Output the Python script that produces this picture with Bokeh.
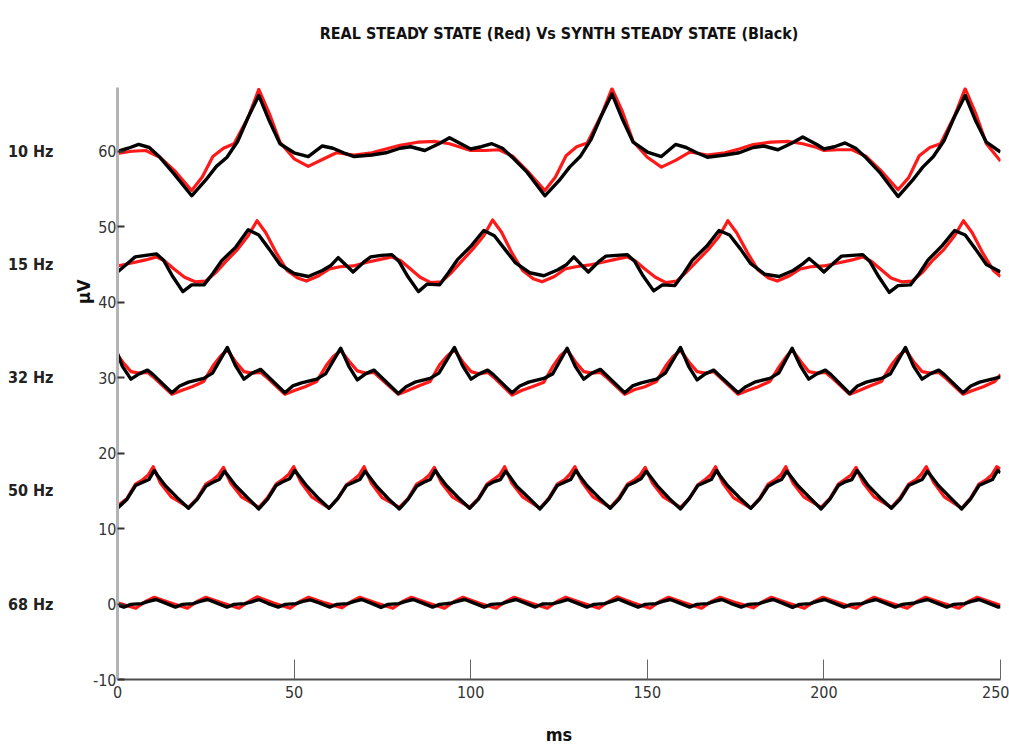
from bokeh.plotting import figure
from bokeh.models import Range1d, FixedTicker, LinearAxis, Title
from bokeh.embed import file_html
from bokeh.resources import INLINE

# ---------------- data (ms, µV) ----------------
title_text = "REAL STEADY STATE (Red) Vs SYNTH STEADY STATE (Black)"
row_labels = ["10 Hz", "15 Hz", "32 Hz", "50 Hz", "68 Hz"]
row_levels = [60, 45, 30, 15, 0]
x_ticks = [0, 50, 100, 150, 200, 250]
y_ticks = [-10, 0, 10, 20, 30, 40, 50, 60]

# 10 Hz
t10_black = [0, 3, 6, 9, 12, 16, 21, 25, 28, 31, 34, 37, 40, 43, 46, 50, 54, 58, 61, 64, 67, 72, 76, 80, 83, 87, 91, 94, 98,
             100, 103, 106, 109, 112, 116, 121, 125, 128, 131, 134, 137, 140, 143, 146, 150, 154, 158, 161, 164, 167, 172, 176, 180, 183, 187, 191, 194, 198,
             200, 203, 206, 209, 212, 216, 221, 225, 228, 231, 234, 237, 240, 243, 246, 250]
v10_black = [60.0, 60.4, 60.9, 60.5, 59.2, 57.0, 54.1, 56.2, 58.0, 59.2, 61.3, 64.5, 67.4, 64.0, 61.0, 59.8, 59.3, 60.7, 60.4, 59.8, 59.3, 59.5, 59.8, 60.4, 60.6, 60.1, 61.0, 61.8, 60.8,
             60.3, 60.6, 61.0, 60.4, 59.1, 57.2, 54.1, 56.1, 57.9, 59.3, 61.5, 64.7, 67.6, 64.2, 61.2, 59.9, 59.3, 60.9, 60.5, 59.8, 59.2, 59.5, 59.8, 60.5, 60.7, 60.2, 61.1, 61.9, 60.9,
             60.3, 60.6, 61.1, 60.4, 59.1, 57.1, 54.0, 56.1, 57.9, 59.3, 61.4, 64.6, 67.4, 64.0, 61.2, 59.9]
t10_red = [0, 4, 8, 12, 16, 21, 24, 27, 30, 33, 37, 40, 43, 46, 50, 54, 58, 62, 67, 72, 76, 80, 85, 90, 94, 98,
           100, 104, 108, 112, 116, 121, 124, 127, 130, 133, 137, 140, 143, 146, 150, 154, 158, 162, 167, 172, 176, 180, 185, 190, 194, 198,
           200, 204, 208, 212, 216, 221, 224, 227, 230, 233, 237, 240, 243, 246, 250]
v10_red = [59.7, 60.0, 60.1, 59.2, 57.5, 54.8, 56.6, 59.3, 60.4, 61.0, 64.5, 68.2, 65.0, 61.2, 59.0, 58.0, 58.9, 59.8, 59.5, 59.8, 60.3, 60.8, 61.2, 61.3, 61.0, 60.4,
           60.1, 60.1, 60.2, 59.3, 57.4, 54.8, 56.6, 59.4, 60.6, 61.1, 64.8, 68.3, 65.2, 61.3, 59.2, 57.9, 58.8, 59.9, 59.5, 59.8, 60.3, 60.9, 61.2, 61.3, 61.0, 60.5,
           60.1, 60.2, 60.2, 59.3, 57.5, 54.9, 56.5, 59.4, 60.5, 61.0, 64.7, 68.3, 65.0, 61.0, 58.7]

# 15 Hz
t15_black = [0, 3, 5, 8, 11, 13, 15.5, 18.5, 21, 24.5, 27, 29.5, 33.5, 37, 40, 43, 46, 50, 54, 58, 60.5, 62.5, 64.5,
             66.7, 69.7, 71.7, 74.7, 77.7, 79.7, 82.2, 85.2, 87.7, 91.2, 93.7, 96.2, 100.2, 103.7, 106.7, 109.7, 112.7, 116.7, 120.7, 124.7, 127.2, 129.2, 131.2,
             133.3, 136.3, 138.3, 141.3, 144.3, 146.3, 148.8, 151.8, 154.3, 157.8, 160.3, 162.8, 166.8, 170.3, 173.3, 176.3, 179.3, 183.3, 187.3, 191.3, 193.8, 195.8, 197.8,
             200, 203, 205, 208, 211, 213, 215.5, 218.5, 221, 224.5, 227, 229.5, 233.5, 237, 240, 243, 246, 250]
v15_black = [44.0, 45.2, 46.0, 46.2, 46.4, 45.6, 43.5, 41.4, 42.3, 42.3, 43.8, 45.5, 47.3, 49.6, 48.9, 47.0, 45.0, 43.8, 43.4, 44.2, 44.9, 45.9, 45.0,
             44.0, 45.3, 46.0, 46.2, 46.3, 45.4, 43.4, 41.4, 42.4, 42.3, 43.9, 45.6, 47.5, 49.5, 48.8, 47.0, 45.2, 43.9, 43.5, 44.3, 45.0, 46.0, 45.0,
             44.0, 45.4, 46.1, 46.2, 46.3, 45.5, 43.5, 41.5, 42.3, 42.2, 43.8, 45.6, 47.4, 49.5, 48.9, 47.1, 45.1, 43.7, 43.4, 44.2, 45.0, 45.8, 45.0,
             44.0, 45.3, 46.1, 46.2, 46.3, 45.4, 43.4, 41.3, 42.2, 42.3, 43.8, 45.6, 47.5, 49.5, 48.9, 47.0, 45.0, 44.0]
t15_red = [0, 4, 8, 11, 13.5, 16, 19, 22, 25, 28, 30.5, 34, 37, 39.5, 42, 45, 48, 51, 53.5, 57, 60, 63,
           66.7, 70.7, 74.7, 77.7, 80.2, 82.7, 85.7, 88.7, 91.7, 94.7, 97.2, 100.7, 103.7, 106.2, 108.7, 111.7, 114.7, 117.7, 120.2, 123.7, 126.7, 129.7,
           133.3, 137.3, 141.3, 144.3, 146.8, 149.3, 152.3, 155.3, 158.3, 161.3, 163.8, 167.3, 170.3, 172.8, 175.3, 178.3, 181.3, 184.3, 186.8, 190.3, 193.3, 196.3,
           200, 204, 208, 211, 213.5, 216, 219, 222, 225, 228, 230.5, 234, 237, 239.5, 242, 245, 248, 250]
v15_red = [44.8, 45.2, 45.6, 46.0, 45.4, 44.4, 43.3, 42.7, 42.8, 44.0, 45.3, 47.0, 48.8, 50.8, 49.2, 46.5, 44.2, 43.2, 42.8, 43.5, 44.4, 44.7,
           44.8, 45.3, 45.7, 46.0, 45.5, 44.5, 43.3, 42.6, 42.7, 44.0, 45.3, 47.1, 48.8, 50.9, 49.3, 46.5, 44.2, 43.1, 42.7, 43.4, 44.4, 44.7,
           44.9, 45.3, 45.7, 46.0, 45.4, 44.4, 43.3, 42.6, 42.8, 44.1, 45.3, 47.0, 48.7, 50.8, 49.2, 46.6, 44.3, 43.2, 42.8, 43.5, 44.4, 44.7,
           44.8, 45.2, 45.6, 46.0, 45.4, 44.4, 43.2, 42.7, 42.8, 44.0, 45.4, 47.0, 48.8, 50.8, 49.2, 46.5, 44.2, 43.4]

# 32 Hz
t32_black = [0, 1.4, 3.8, 6.1, 8.5, 10.1, 15.4, 17.6, 20.1, 24.4, 26.9,
             31.1, 33.4, 35.8, 38.1, 40.5, 42.1, 47.4, 49.6, 52.1, 56.4, 58.9,
             63.2, 65.5, 67.9, 70.2, 72.6, 74.2, 79.5, 81.7, 84.2, 88.5, 91.0,
             95.4, 97.7, 100.1, 102.4, 104.8, 106.4, 111.7, 113.9, 116.4, 120.7, 123.2,
             127.3, 129.6, 132.0, 134.3, 136.7, 138.3, 143.6, 145.8, 148.3, 152.6, 155.1,
             159.4, 161.7, 164.1, 166.4, 168.8, 170.4, 175.7, 177.9, 180.4, 184.7, 187.2,
             191.0, 193.3, 195.7, 198.0, 200.4, 202.0, 207.3, 209.5, 212.0, 216.3, 218.8,
             223.1, 225.4, 227.8, 230.1, 232.5, 234.1, 239.4, 241.6, 244.1, 248.4, 250]
v32_black = [33.2, 31.5, 29.8, 30.5, 31.0, 30.4, 28.0, 28.9, 29.4, 29.9, 30.6,
             34.0, 31.6, 29.8, 30.6, 31.1, 30.4, 28.0, 28.9, 29.3, 29.8, 30.5,
             33.9, 31.5, 29.7, 30.5, 31.0, 30.3, 27.9, 28.8, 29.4, 29.9, 30.6,
             34.0, 31.6, 29.8, 30.5, 31.0, 30.4, 28.0, 28.9, 29.4, 29.9, 30.5,
             33.9, 31.5, 29.8, 30.6, 31.1, 30.4, 28.0, 28.9, 29.3, 29.8, 30.6,
             34.0, 31.5, 29.7, 30.5, 31.0, 30.3, 28.0, 28.8, 29.4, 29.9, 30.6,
             33.9, 31.6, 29.8, 30.5, 31.0, 30.4, 27.9, 28.9, 29.4, 29.9, 30.5,
             34.0, 31.5, 29.8, 30.5, 31.0, 30.4, 28.0, 28.9, 29.4, 29.9, 30.1]
t32_red = [0, 1.6, 3.8, 6.1, 8.5, 10.1, 15.4, 18.1, 21.1, 24.4, 27.1, 29.1,
           31.1, 33.6, 35.8, 38.1, 40.5, 42.1, 47.4, 50.1, 53.1, 56.4, 59.1, 61.1,
           63.2, 65.7, 67.9, 70.2, 72.6, 74.2, 79.5, 82.2, 85.2, 88.5, 91.2, 93.2,
           95.4, 97.9, 100.1, 102.4, 104.8, 106.4, 111.7, 114.4, 117.4, 120.7, 123.4, 125.4,
           127.3, 129.8, 132.0, 134.3, 136.7, 138.3, 143.6, 146.3, 149.3, 152.6, 155.3, 157.3,
           159.4, 161.9, 164.1, 166.4, 168.8, 170.4, 175.7, 178.4, 181.4, 184.7, 187.4, 189.4,
           191.0, 193.5, 195.7, 198.0, 200.4, 202.0, 207.3, 210.0, 213.0, 216.3, 219.0, 221.0,
           223.1, 225.6, 227.8, 230.1, 232.5, 234.1, 239.4, 242.1, 245.1, 248.4, 250]
v32_red = [33.0, 32.0, 30.8, 30.6, 30.7, 30.1, 27.8, 28.3, 28.8, 29.5, 31.6, 32.8,
           33.7, 32.0, 30.8, 30.6, 30.7, 30.1, 27.8, 28.3, 28.8, 29.5, 31.6, 32.8,
           33.6, 32.1, 30.9, 30.6, 30.7, 30.0, 27.8, 28.3, 28.9, 29.5, 31.7, 32.8,
           33.7, 32.0, 30.8, 30.5, 30.7, 30.1, 27.7, 28.3, 28.8, 29.4, 31.6, 32.9,
           33.7, 32.0, 30.8, 30.6, 30.7, 30.1, 27.8, 28.4, 28.8, 29.5, 31.6, 32.8,
           33.6, 32.0, 30.8, 30.6, 30.8, 30.1, 27.8, 28.3, 28.8, 29.5, 31.5, 32.8,
           33.7, 32.1, 30.8, 30.6, 30.7, 30.1, 27.8, 28.3, 28.9, 29.5, 31.6, 32.8,
           33.7, 32.0, 30.8, 30.6, 30.7, 30.1, 27.8, 28.3, 28.8, 29.5, 30.4]

# 50 Hz
t50_black = [0, 2.7, 5.1, 7.0, 8.9, 10.4, 11.4, 13.5, 16.9,
             20.1, 22.6, 25.0, 26.9, 28.8, 30.3, 31.3, 33.4, 36.8,
             40.0, 42.5, 44.9, 46.8, 48.7, 50.2, 51.2, 53.3, 56.7,
             59.9, 62.4, 64.8, 66.7, 68.6, 70.1, 71.1, 73.2, 76.6,
             79.8, 82.3, 84.7, 86.6, 88.5, 90.0, 91.0, 93.1, 96.5,
             99.7, 102.2, 104.6, 106.5, 108.4, 109.9, 110.9, 113.0, 116.4,
             119.6, 122.1, 124.5, 126.4, 128.3, 129.8, 130.8, 132.9, 136.3,
             139.5, 142.0, 144.4, 146.3, 148.2, 149.7, 150.7, 152.8, 156.2,
             159.4, 161.9, 164.3, 166.2, 168.1, 169.6, 170.6, 172.7, 176.1,
             179.3, 181.8, 184.2, 186.1, 188.0, 189.5, 190.5, 192.6, 196.0,
             199.2, 201.7, 204.1, 206.0, 207.9, 209.4, 210.4, 212.5, 215.9,
             219.1, 221.6, 224.0, 225.9, 227.8, 229.3, 230.3, 232.4, 235.8,
             239.0, 241.5, 243.9, 245.8, 247.7, 249.2, 250.0]
v50_black = [12.7, 13.9, 15.7, 16.1, 16.5, 17.7, 17.0, 15.7, 14.1,
             12.7, 13.9, 15.6, 16.1, 16.5, 17.6, 17.0, 15.7, 14.1,
             12.6, 13.9, 15.7, 16.2, 16.6, 17.7, 17.1, 15.8, 14.1,
             12.7, 14.0, 15.7, 16.1, 16.5, 17.6, 17.0, 15.7, 14.0,
             12.6, 13.9, 15.6, 16.1, 16.5, 17.7, 17.0, 15.7, 14.1,
             12.7, 13.9, 15.7, 16.2, 16.5, 17.6, 17.0, 15.6, 14.1,
             12.6, 13.9, 15.7, 16.1, 16.5, 17.7, 17.0, 15.7, 14.1,
             12.7, 13.9, 15.7, 16.1, 16.6, 17.6, 17.0, 15.7, 14.0,
             12.6, 14.0, 15.7, 16.1, 16.5, 17.7, 17.0, 15.7, 14.1,
             12.7, 13.9, 15.6, 16.1, 16.5, 17.6, 17.0, 15.7, 14.1,
             12.6, 13.9, 15.7, 16.2, 16.5, 17.7, 17.1, 15.7, 14.1,
             12.7, 13.9, 15.7, 16.1, 16.5, 17.6, 17.0, 15.7, 14.1,
             12.6, 13.9, 15.7, 16.1, 16.5, 17.7, 17.4]
t50_red = [0, 2.7, 5.1, 7.2, 8.7, 10.1, 12.2, 15.2,
           20.1, 22.6, 25.0, 27.1, 28.6, 30.0, 32.1, 35.1,
           40.0, 42.5, 44.9, 47.0, 48.5, 49.9, 52.0, 55.0,
           59.9, 62.4, 64.8, 66.9, 68.4, 69.8, 71.9, 74.9,
           79.8, 82.3, 84.7, 86.8, 88.3, 89.7, 91.8, 94.8,
           99.7, 102.2, 104.6, 106.7, 108.2, 109.6, 111.7, 114.7,
           119.6, 122.1, 124.5, 126.6, 128.1, 129.5, 131.6, 134.6,
           139.5, 142.0, 144.4, 146.5, 148.0, 149.4, 151.5, 154.5,
           159.4, 161.9, 164.3, 166.4, 167.9, 169.3, 171.4, 174.4,
           179.3, 181.8, 184.2, 186.3, 187.8, 189.2, 191.3, 194.3,
           199.2, 201.7, 204.1, 206.2, 207.7, 209.1, 211.2, 214.2,
           219.1, 221.6, 224.0, 226.1, 227.6, 229.0, 231.1, 234.1,
           239.0, 241.5, 243.9, 246.0, 247.5, 248.9, 250.0]
v50_red = [13.0, 14.0, 15.9, 16.5, 17.1, 18.2, 16.0, 14.2,
           12.8, 14.0, 15.9, 16.5, 17.1, 18.1, 16.0, 14.2,
           12.8, 14.1, 15.9, 16.6, 17.2, 18.2, 16.1, 14.2,
           12.7, 14.0, 15.8, 16.5, 17.1, 18.2, 16.0, 14.1,
           12.8, 14.0, 15.9, 16.5, 17.1, 18.1, 16.0, 14.2,
           12.8, 14.0, 15.9, 16.6, 17.1, 18.2, 16.0, 14.2,
           12.7, 14.0, 15.9, 16.5, 17.2, 18.2, 16.1, 14.2,
           12.8, 14.1, 15.9, 16.5, 17.1, 18.1, 16.0, 14.2,
           12.8, 14.0, 15.8, 16.5, 17.1, 18.2, 16.0, 14.1,
           12.7, 14.0, 15.9, 16.5, 17.1, 18.2, 16.0, 14.2,
           12.8, 14.0, 15.9, 16.6, 17.1, 18.1, 16.0, 14.2,
           12.8, 14.1, 15.9, 16.5, 17.2, 18.2, 16.1, 14.2,
           12.7, 14.0, 15.9, 16.5, 17.1, 18.2, 17.9]

# 68 Hz
t68_black = [0, 1.8, 3.8, 6.8, 8.8,
             10.9, 13.4, 16.4, 18.4, 21.4, 23.4,
             25.5, 28.0, 31.0, 33.0, 36.0, 38.0,
             40.0, 42.5, 45.5, 47.5, 50.5, 52.5,
             54.6, 57.1, 60.1, 62.1, 65.1, 67.1,
             69.1, 71.6, 74.6, 76.6, 79.6, 81.6,
             83.7, 86.2, 89.2, 91.2, 94.2, 96.2,
             98.3, 100.8, 103.8, 105.8, 108.8, 110.8,
             112.8, 115.3, 118.3, 120.3, 123.3, 125.3,
             127.4, 129.9, 132.9, 134.9, 137.9, 139.9,
             141.9, 144.4, 147.4, 149.4, 152.4, 154.4,
             156.5, 159.0, 162.0, 164.0, 167.0, 169.0,
             171.1, 173.6, 176.6, 178.6, 181.6, 183.6,
             185.6, 188.1, 191.1, 193.1, 196.1, 198.1,
             200.2, 202.7, 205.7, 207.7, 210.7, 212.7,
             214.7, 217.2, 220.2, 222.2, 225.2, 227.2,
             229.3, 231.8, 234.8, 236.8, 239.8, 241.8,
             243.9, 246.4, 249.4, 250]
v68_black = [-0.1, -0.4, -0.05, 0.05, 0.35,
             0.6, 0.15, -0.4, -0.05, 0.05, 0.35,
             0.6, 0.15, -0.4, -0.05, 0.05, 0.3,
             0.6, 0.1, -0.4, -0.05, 0.05, 0.35,
             0.55, 0.15, -0.4, -0.05, 0.05, 0.35,
             0.6, 0.15, -0.45, -0.05, 0.05, 0.35,
             0.6, 0.15, -0.4, -0.05, 0.1, 0.35,
             0.6, 0.15, -0.4, -0.05, 0.05, 0.35,
             0.6, 0.15, -0.4, 0.0, 0.05, 0.3,
             0.6, 0.15, -0.4, -0.05, 0.05, 0.35,
             0.65, 0.15, -0.4, -0.05, 0.05, 0.35,
             0.6, 0.15, -0.4, -0.05, 0.05, 0.35,
             0.6, 0.1, -0.4, -0.05, 0.05, 0.35,
             0.6, 0.15, -0.45, -0.05, 0.05, 0.35,
             0.6, 0.15, -0.4, -0.05, 0.05, 0.35,
             0.6, 0.15, -0.4, -0.05, 0.1, 0.35,
             0.6, 0.15, -0.4, -0.05, 0.05, 0.35,
             0.6, 0.15, -0.4, -0.35]
t68_red = [0, 5.2, 7.8,
           10.4, 15.1, 19.8, 22.4,
           25.0, 29.7, 34.4, 37.0,
           39.5, 44.2, 48.9, 51.5,
           54.1, 58.8, 63.5, 66.1,
           68.6, 73.3, 78.0, 80.6,
           83.2, 87.9, 92.6, 95.2,
           97.8, 102.5, 107.2, 109.8,
           112.3, 117.0, 121.7, 124.3,
           126.9, 131.6, 136.3, 138.9,
           141.4, 146.1, 150.8, 153.4,
           156.0, 160.7, 165.4, 168.0,
           170.6, 175.3, 180.0, 182.6,
           185.1, 189.8, 194.5, 197.1,
           199.7, 204.4, 209.1, 211.7,
           214.2, 218.9, 223.6, 226.2,
           228.8, 233.5, 238.2, 240.8,
           243.4, 248.1, 250]
v68_red = [0.15, -0.55, 0.3,
           0.9, 0.15, -0.55, 0.3,
           0.9, 0.15, -0.55, 0.3,
           0.95, 0.15, -0.55, 0.3,
           0.9, 0.15, -0.5, 0.3,
           0.9, 0.15, -0.55, 0.3,
           0.9, 0.15, -0.55, 0.3,
           0.9, 0.1, -0.55, 0.3,
           0.9, 0.15, -0.55, 0.3,
           0.9, 0.15, -0.55, 0.3,
           0.95, 0.15, -0.55, 0.3,
           0.9, 0.15, -0.55, 0.3,
           0.9, 0.15, -0.5, 0.3,
           0.9, 0.15, -0.55, 0.3,
           0.9, 0.15, -0.55, 0.3,
           0.9, 0.15, -0.55, 0.3,
           0.9, 0.15, -0.55, 0.3,
           0.9, 0.15, -0.15]

series_red = [(t10_red, v10_red), (t15_red, v15_red), (t32_red, v32_red), (t50_red, v50_red), (t68_red, v68_red)]
series_black = [(t10_black, v10_black), (t15_black, v15_black), (t32_black, v32_black), (t50_black, v50_black), (t68_black, v68_black)]

# ---------------- figure ----------------
FONT = "'DejaVu Sans Condensed', 'Roboto Condensed', 'Liberation Sans Narrow', 'Liberation Sans', sans-serif"

p = figure(width=1009, height=748,
           x_range=Range1d(0, 250), y_range=Range1d(-10, 68.45),
           output_backend="svg", toolbar_location=None,
           min_border_left=117, min_border_right=9,
           min_border_top=87, min_border_bottom=69)
p.outline_line_color = None
p.xgrid.visible = False
p.ygrid.visible = False
p.background_fill_color = "white"
p.border_fill_color = "white"

for t, v in series_red:
    p.line(t, v, line_color="#ff1a1a", line_width=3.2, line_join="round")
for t, v in series_black:
    p.line(t, v, line_color="#000000", line_width=3.4, line_join="round")

# x axis (bottom) with "ms"
xa = p.xaxis[0]
xa.ticker = FixedTicker(ticks=x_ticks)
xa.axis_line_color = "#4d4d4d"
xa.axis_line_width = 2
xa.major_tick_in = 20
xa.major_tick_out = 0
xa.minor_tick_out = 0
xa.major_tick_line_color = "#666666"
xa.major_tick_line_width = 1
xa.minor_tick_line_color = None
xa.major_label_standoff = 6
xa.major_label_text_font = FONT
xa.major_label_text_font_size = "16px"
xa.major_label_text_color = "#333333"
xa.axis_label = "ms"
xa.axis_label_standoff = 23
xa.axis_label_text_font = FONT
xa.axis_label_text_font_size = "18px"
xa.axis_label_text_font_style = "bold"
xa.axis_label_text_color = "#111111"

# y axis (numbers)
ya = p.yaxis[0]
ya.ticker = FixedTicker(ticks=y_ticks)
ya.major_label_overrides = {-10: "-10"}
ya.axis_line_color = "#b4b4b4"
ya.axis_line_width = 3
ya.major_tick_in = 7
ya.major_tick_out = 0
ya.minor_tick_out = 0
ya.major_tick_line_color = "#333333"
ya.major_tick_line_width = 2
ya.minor_tick_line_color = None
ya.major_label_standoff = 1
ya.major_label_text_font = FONT
ya.major_label_text_font_size = "16px"
ya.major_label_text_color = "#333333"

# unit label (µV), rotated, in the left panel next to the numbers
unit_title = Title(text="µV", align="right", offset=192, standoff=-8,
                   text_font=FONT, text_font_size="18px", text_font_style="bold",
                   text_color="#111111")
p.add_layout(unit_title, "left")

# row labels (10 Hz ...)
row_axis = LinearAxis(ticker=FixedTicker(ticks=row_levels),
                      major_label_overrides={lev: name for lev, name in zip(row_levels, row_labels)},
                      axis_line_color=None, major_tick_line_color=None, minor_tick_line_color=None,
                      major_tick_out=0, minor_tick_out=0, major_tick_in=0, minor_tick_in=0,
                      major_label_standoff=21,
                      major_label_text_font=FONT, major_label_text_font_size="16px",
                      major_label_text_font_style="bold", major_label_text_color="#222222")
p.add_layout(row_axis, "left")

# main title as the label of an unticked top axis
title_axis = LinearAxis(ticker=FixedTicker(ticks=[]),
                        axis_line_color=None, major_tick_line_color=None, minor_tick_line_color=None,
                        major_tick_out=0, minor_tick_out=0, major_label_standoff=0,
                        axis_label=title_text, axis_label_standoff=45,
                        axis_label_text_font=FONT, axis_label_text_font_size="16px",
                        axis_label_text_font_style="bold", axis_label_text_color="#111111")
p.add_layout(title_axis, "above")

open("out.html", "w").write(file_html(p, INLINE))
